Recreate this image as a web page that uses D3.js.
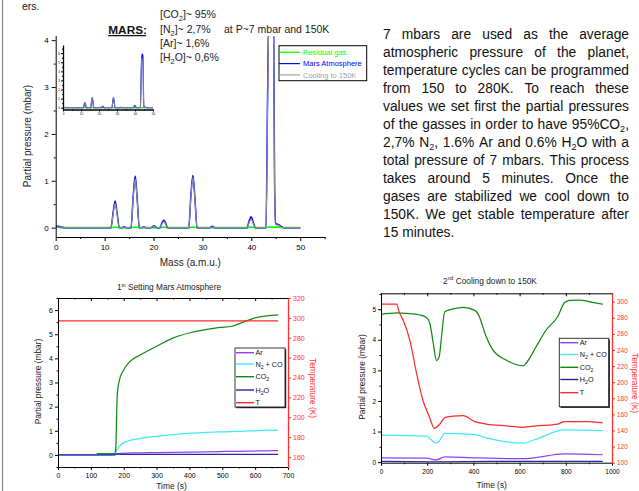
<!DOCTYPE html>
<html>
<head>
<meta charset="utf-8">
<script src="https://cdn.jsdelivr.net/npm/d3@7"></script>
<style>
body { margin: 0; background: #fff; }
#page { position: relative; width: 639px; height: 491px; overflow: hidden; background: #fff;
        font-family: Arial, "Liberation Sans", Helvetica, sans-serif; }
svg { position: absolute; left: 0; top: 0; }
svg text { white-space: pre; }
#para { position: absolute; left: 383px; top: 26px; width: 246px; font-size: 13.8px; color: #111; }
#para .row { display: flex; justify-content: space-between; height: 18px; line-height: 18px; white-space: nowrap; }
#para .row.last { justify-content: flex-start; column-gap: 3.8px; }
#para sub { font-size: 9px; line-height: 0; vertical-align: -3px; }
</style>
</head>
<body>
<div id="page"></div>
<script>
const FONT = 'Arial, "Liberation Sans", Helvetica, sans-serif';

// ---- mass spectrum (top chart) ----
const massX = [0, 0.6, 1.2, 2.0,
    11.3, 11.75, 12.15, 12.55, 13.0,
    13.6, 14.0, 14.4,
    15.4, 15.85, 16.25, 16.65, 17.1,
    17.6, 18.0, 18.4,
    19.5, 20.1, 20.7,
    21.3, 21.75, 22.1, 22.45, 22.9,
    27.2, 27.65, 28.05, 28.45, 28.9,
    31.5, 32.0, 32.5,
    39.1, 39.55, 39.95, 40.35, 40.8,
    43.0, 43.3, 43.55, 43.9, 44.3, 44.55, 44.75, 44.95, 45.5, 46.0, 46.5,
    50];
const marsP = [0.03, 0.03, 0.01, 0,
    0, 0.33, 0.57, 0.32, 0,
    0, 0.02, 0,
    0, 0.68, 1.1, 0.64, 0,
    0, 0.015, 0,
    0, 0.04, 0,
    0, 0.1, 0.16, 0.1, 0,
    0, 0.7, 1.12, 0.66, 0,
    0, 0.03, 0,
    0, 0.14, 0.23, 0.13, 0,
    0, 2.6, 4.7, 5.9, 5.8, 4.5, 1.0, 0.08, 0.07, 0.03, 0,
    0];
const coolP = [0.02, 0.02, 0.01, 0,
    0, 0.3, 0.52, 0.29, 0,
    0, 0.015, 0,
    0, 0.64, 1.04, 0.6, 0,
    0, 0.01, 0,
    0, 0.03, 0,
    0, 0.08, 0.13, 0.08, 0,
    0, 0.66, 1.07, 0.62, 0,
    0, 0.02, 0,
    0, 0.11, 0.18, 0.1, 0,
    0, 2.4, 4.4, 5.45, 5.35, 4.2, 0.9, 0.06, 0.05, 0.02, 0,
    0];
const residP = [0.01, 0.01, 0, 0,
    0, 0.005, 0.01, 0.005, 0,
    0, 0, 0,
    0, 0.005, 0.01, 0.005, 0,
    0, 0, 0,
    0, 0, 0,
    0, 0.005, 0.01, 0.005, 0,
    0, 0.005, 0.01, 0.005, 0,
    0, 0, 0,
    0, 0.005, 0.01, 0.005, 0,
    0, 0.005, 0.01, 0.01, 0.01, 0.01, 0.01, 0.01, 0.01, 0.005, 0,
    0];
const massTicks = [0, 10, 20, 30, 40, 50];
const pressTicks = [0, 1, 2, 3, 4];
const insetPressTicks = [0, 1, 2, 3, 4, 5, 6];

// ---- 1st: setting Mars atmosphere ----
const t1 = [0, 118, 172, 176, 179, 181, 187, 199, 219, 250, 300, 351, 402, 453, 493, 529, 554, 595, 635, 670];
const co2_1 = [null, 0.05, 0.05, 0.3, 2.0, 2.6, 3.1, 3.5, 3.87, 4.14, 4.5, 4.85, 5.06, 5.2, 5.28, 5.33, 5.45, 5.66, 5.76, 5.8];
const n2_1 = [0, 0, 0.02, 0.1, 0.2, 0.25, 0.36, 0.5, 0.6, 0.68, 0.77, 0.84, 0.9, 0.93, 0.95, 0.97, 0.98, 1.0, 1.02, 1.03];
const ar_1 = [0, 0, 0.01, 0.04, 0.05, 0.05, 0.06, 0.07, 0.08, 0.09, 0.1, 0.11, 0.12, 0.13, 0.14, 0.15, 0.15, 0.16, 0.17, 0.18];
const h2o_1 = [0, 0, 0, 0.02, 0.03, 0.03, 0.03, 0.02, 0.02, 0.02, 0.02, 0.02, 0.02, 0.02, 0.02, 0.02, 0.02, 0.02, 0.02, 0.02];
const temp_1 = [297, 297, 297, 297, 297, 297, 297, 297, 297, 297, 297, 297, 297, 297, 297, 297, 297, 297, 297, 297];
const time1Ticks = [0, 100, 200, 300, 400, 500, 600, 700];
const press1Ticks = [0, 1, 2, 3, 4, 5, 6];
const temp1Ticks = [160, 180, 200, 220, 240, 260, 280, 300, 320];

// ---- 2nd: cooling down to 150K ----
const co2T2 = [0, 68, 111, 168, 197, 211, 226, 240, 252, 262, 276, 312, 355, 406, 420, 456, 485, 543, 617, 629, 672, 715, 765, 794, 816, 859, 916, 960];
const co2V2 = [4.83, 4.88, 4.86, 4.81, 4.73, 4.55, 3.9, 3.32, 3.45, 4.1, 4.92, 5.01, 5.06, 4.96, 4.85, 4.09, 3.66, 3.33, 3.15, 3.24, 3.78, 4.32, 4.76, 5.21, 5.29, 5.3, 5.22, 5.16];
const tempT2 = [0, 68, 78, 96, 125, 154, 183, 197, 212, 230, 255, 276, 312, 355, 406, 456, 543, 617, 672, 765, 794, 888, 960];
const tempV2 = [297, 297, 287.6, 277, 252, 211, 176, 165.5, 155, 142.7, 148, 156, 157.7, 158.5, 151, 148, 145.7, 144, 145.7, 148, 151, 151, 149.6];
const n2T2 = [0, 197, 237, 247, 276, 406, 456, 617, 672, 794, 960];
const n2V2 = [0.88, 0.85, 0.63, 0.65, 0.94, 0.9, 0.79, 0.62, 0.75, 1.05, 1.03];
const arT2 = [0, 197, 240, 276, 406, 617, 794, 960];
const arV2 = [0.14, 0.13, 0.07, 0.17, 0.14, 0.11, 0.27, 0.24];
const h2oT2 = [0, 240, 480, 720, 960];
const h2oV2 = [0.02, 0.01, 0.02, 0.02, 0.02];
const time2Ticks = [0, 200, 400, 600, 800, 1000];
const press2Ticks = [0, 1, 2, 3, 4, 5];
const temp2Ticks = [100, 120, 140, 160, 180, 200, 220, 240, 260, 280, 300];

const gasNames = ['Ar', 'N_2 + CO', 'CO_2', 'H_2O', 'T'];
const paraLines = [
    '7 mbars are used as the average',
    'atmospheric pressure of the planet,',
    'temperature cycles can be programmed',
    'from 150 to 280K. To reach these',
    'values we set first the partial pressures',
    'of the gasses in order to have 95%CO<sub>2</sub>,',
    '2,7% N<sub>2</sub>, 1.6% Ar and 0.6% H<sub>2</sub>O with a',
    'total pressure of 7 mbars. This process',
    'takes around 5 minutes. Once the',
    'gases are stabilized we cool down to',
    '150K. We get stable temperature after',
    '15 minutes.'
];

const AR = '#9440f2', N2 = '#3ee8ff', CO2 = '#118a11', H2O = '#2626a4', TEMP = '#ff2a2a';
const RED_AXIS = '#ff3030';
const plain = d => String(d);

const svg = d3.select('#page').append('svg').attr('width', 639).attr('height', 491);
const defs = svg.append('defs');

// text with _x subscripts and ^xx superscripts
function richText(sel, str, size) {
    const parts = str.split(/([_^][0-9a-z]+)/);
    let shift = 0;
    parts.forEach(p => {
        if (!p) return;
        let target = 0, fs = size, txt = p;
        if (p[0] === '_') { target = size * 0.3; fs = size * 0.72; txt = p.slice(1); }
        else if (p[0] === '^') { target = -size * 0.4; fs = size * 0.62; txt = p.slice(1); }
        sel.append('tspan').attr('dy', target - shift).attr('font-size', fs).text(txt);
        shift = target;
    });
    return sel;
}

function label(parent, x, y, str, size, opts = {}) {
    const t = parent.append('text')
        .attr('x', x).attr('y', y)
        .attr('font-family', FONT).attr('font-size', size)
        .attr('fill', opts.color || '#111')
        .attr('text-anchor', opts.anchor || 'start');
    if (opts.weight) t.attr('font-weight', opts.weight);
    if (opts.rotate) t.attr('transform', `rotate(${opts.rotate},${x},${y})`);
    return richText(t, str, size);
}

function axisG(parent, axis, tx, ty, color, fs, noDomain) {
    const a = parent.append('g')
        .attr('transform', `translate(${tx},${ty})`)
        .call(axis)
        .attr('font-family', FONT)
        .attr('font-size', fs);
    a.select('.domain').attr('stroke', color).style('display', noDomain ? 'none' : null);
    a.selectAll('.tick line').attr('stroke', color);
    a.selectAll('.tick text').attr('fill', color);
    return a;
}
const blank = () => '';

// page edge and the tail of the previous paragraph
svg.append('line').attr('x1', 2.5).attr('x2', 2.5).attr('y1', 0).attr('y2', 491)
    .attr('stroke', '#888').attr('stroke-width', 1.2);
label(svg, 22, 10, 'ers.', 10.5);

// ---------------- mass spectrum ----------------
const xM = d3.scaleLinear().domain([0, 55]).range([55.7, 324.7]);
const yM = d3.scaleLinear().domain([-0.2, 4.1]).range([237, 35.5]);

defs.append('clipPath').attr('id', 'mainClip').append('rect')
    .attr('x', xM(0)).attr('y', 36).attr('width', xM(55) - xM(0)).attr('height', 237 - 36);

const specLine = (xs, ys) => d3.line()
    .x((d, i) => xs(massX[i]))
    .y(d => ys(d))
    .curve(d3.curveMonotoneX);

const mainBody = svg.append('g').attr('clip-path', 'url(#mainClip)');
mainBody.append('path').datum(residP).attr('d', specLine(xM, yM))
    .attr('fill', 'none').attr('stroke', '#00ff00').attr('stroke-width', 1.6);
mainBody.append('path').datum(marsP).attr('d', specLine(xM, yM))
    .attr('fill', 'none').attr('stroke', '#0000ff').attr('stroke-width', 1.5);
mainBody.append('path').datum(coolP).attr('d', specLine(xM, yM))
    .attr('fill', 'none').attr('stroke', '#8e8e9a').attr('stroke-width', 1.1);

axisG(svg, d3.axisLeft(yM).tickValues(pressTicks).tickFormat(plain).tickSize(4).tickPadding(3).tickSizeOuter(0),
    xM(0), 0, '#000', 8);
axisG(svg, d3.axisLeft(yM).tickValues([0.5, 1.5, 2.5, 3.5]).tickSize(2).tickFormat(blank),
    xM(0), 0, '#000', 8, true);
axisG(svg, d3.axisBottom(xM).tickValues(massTicks).tickFormat(plain).tickSize(4).tickPadding(3).tickSizeOuter(0),
    0, 237, '#000', 8);
axisG(svg, d3.axisBottom(xM).tickValues([5, 15, 25, 35, 45, 55]).tickSize(2).tickFormat(blank),
    0, 237, '#000', 8, true);

label(svg, 190.3, 266, 'Mass (a.m.u.)', 10, { anchor: 'middle', color: '#222' });
label(svg, 31, 136, 'Partial pressure (mbar)', 10, { anchor: 'middle', rotate: -90, color: '#222' });

// inset: full-scale view of the same spectra
const xI = d3.scaleLinear().domain([0, 50]).range([63, 153]);
const yI = d3.scaleLinear().domain([-0.2, 6.9]).range([109.5, 45]);
defs.append('clipPath').attr('id', 'insetClip').append('rect')
    .attr('x', 63).attr('y', 45).attr('width', 90).attr('height', 64.5);
const inset = svg.append('g').attr('clip-path', 'url(#insetClip)');
inset.append('path').datum(residP).attr('d', specLine(xI, yI))
    .attr('fill', 'none').attr('stroke', '#00ff00').attr('stroke-width', 1.2);
inset.append('path').datum(marsP).attr('d', specLine(xI, yI))
    .attr('fill', 'none').attr('stroke', '#0000ff').attr('stroke-width', 1.2);
inset.append('path').datum(coolP).attr('d', specLine(xI, yI))
    .attr('fill', 'none').attr('stroke', '#8e8e9a').attr('stroke-width', 1);
const ia1 = axisG(svg, d3.axisLeft(yI).tickValues(insetPressTicks).tickFormat(plain).tickSize(2).tickPadding(1).tickSizeOuter(0),
    63, 0, '#000', 3);
const ia2 = axisG(svg, d3.axisBottom(xI).tickValues(massTicks).tickFormat(plain).tickSize(2).tickPadding(1).tickSizeOuter(0),
    0, 109.5, '#000', 3);
axisG(svg, d3.axisLeft(yI).tickValues([0.5, 1.5, 2.5, 3.5, 4.5, 5.5, 6.5]).tickSize(1).tickFormat(blank),
    63, 0, '#000', 3, true);
axisG(svg, d3.axisBottom(xI).tickValues([5, 15, 25, 35, 45]).tickSize(1).tickFormat(blank),
    0, 109.5, '#000', 3, true);
ia1.select('.domain').attr('stroke-width', 1.3);
ia2.select('.domain').attr('stroke-width', 1.3);

// legend of the spectrum
const specLegend = [
    { name: 'Residual gas', color: '#00ff00' },
    { name: 'Mars Atmosphere', color: '#0000ff' },
    { name: 'Cooling to 150K', color: '#a0a0a0' }
];
svg.append('rect').attr('x', 279).attr('y', 45.7).attr('width', 87.7).attr('height', 35)
    .attr('fill', '#fff').attr('stroke', '#000').attr('stroke-width', 1);
specLegend.forEach((d, i) => {
    const yy = 52.3 + i * 11.3;
    svg.append('line').attr('x1', 279).attr('x2', 300).attr('y1', yy).attr('y2', yy)
        .attr('stroke', d.color).attr('stroke-width', 1.2);
    label(svg, 303, yy + 2.7, d.name, 7.5, { color: d.color });
});

// header texts
label(svg, 108.3, 33.5, 'MARS:', 11.8, { weight: 'bold', color: '#111' });
svg.append('line').attr('x1', 108.3).attr('x2', 146).attr('y1', 35.6).attr('y2', 35.6)
    .attr('stroke', '#111').attr('stroke-width', 1.2);
const composition = ['[CO_2]~ 95%', '[N_2]~ 2,7%', '[Ar]~ 1,6%', '[H_2O]~ 0,6%'];
const compBase = [18, 32.5, 47, 60.8];
composition.forEach((c, i) => label(svg, 160, compBase[i], c, 10.5, { color: '#222' }));
label(svg, 224, 33, 'at P~7 mbar and 150K', 10.5, { color: '#222' });

// ---------------- time charts ----------------
function timeChart(c) {
    const x = d3.scaleLinear().domain(c.xDomain).range([c.left, c.right]);
    const y = d3.scaleLinear().domain(c.yDomain).range([c.bottom, c.top]);
    const yT = d3.scaleLinear().domain(c.tDomain).range([c.bottom, c.top]);
    const g = svg.append('g');
    const fs = c.fontSize;

    defs.append('clipPath').attr('id', c.id + '-clip').append('rect')
        .attr('x', c.left).attr('y', c.top)
        .attr('width', c.right - c.left).attr('height', c.bottom - c.top);
    const body = g.append('g').attr('clip-path', `url(#${c.id}-clip)`);

    c.series.forEach(s => {
        const sc = s.axis === 'T' ? yT : y;
        const line = d3.line()
            .defined(d => d !== null)
            .x((d, i) => x(s.t[i]))
            .y(d => sc(d))
            .curve(d3.curveMonotoneX);
        body.append('path').datum(s.v).attr('d', line)
            .attr('fill', 'none').attr('stroke', s.color).attr('stroke-width', 1.25);
    });

    // frame and ticks
    axisG(g, d3.axisBottom(x).tickValues(c.xMajor).tickFormat(plain).tickSize(3).tickPadding(c.padX).tickSizeOuter(0),
        0, c.bottom, '#000', fs);
    axisG(g, d3.axisBottom(x).tickValues(c.xMinor).tickSize(1.5).tickFormat(blank), 0, c.bottom, '#000', fs, true);
    axisG(g, d3.axisBottom(x).tickValues(c.xMajor).tickSize(3).tickFormat(blank).tickSizeOuter(0),
        0, c.top, '#000', fs);
    axisG(g, d3.axisBottom(x).tickValues(c.xMinor).tickSize(1.5).tickFormat(blank), 0, c.top, '#000', fs, true);
    axisG(g, d3.axisLeft(y).tickValues(c.yMajor).tickFormat(plain).tickSize(3).tickPadding(2).tickSizeOuter(0),
        c.left, 0, '#000', fs);
    axisG(g, d3.axisLeft(y).tickValues(c.yMinor).tickSize(1.5).tickFormat(blank), c.left, 0, '#000', fs, true);
    axisG(g, d3.axisRight(yT).tickValues(c.tMajor).tickFormat(plain).tickSize(3).tickPadding(c.padT).tickSizeOuter(0),
        c.right, 0, RED_AXIS, fs).select('.domain').attr('stroke-width', 1.3);
    axisG(g, d3.axisRight(yT).tickValues(c.tMinor).tickSize(1.5).tickFormat(blank), c.right, 0, RED_AXIS, fs, true);

    // titles
    label(g, c.titleX, c.titleY, c.title, 8.3, { anchor: 'middle', color: '#222' });
    label(g, c.xLabelX, c.xLabelY, 'Time (s)', 8.4, { anchor: 'middle', color: '#222' });
    label(g, c.yLabelX, (c.top + c.bottom) / 2 - 1, 'Partial pressure (mbar)', 8.4,
        { anchor: 'middle', rotate: -90, color: '#222' });
    label(g, c.tLabelX, c.tLabelY, 'Temperature (K)', 8.3, { anchor: 'middle', rotate: 90, color: RED_AXIS });

    // legend box with shadow
    const L = c.legend;
    g.append('rect').attr('x', L.x0 + 1.2).attr('y', L.y0 + 1.2)
        .attr('width', L.x1 - L.x0).attr('height', L.y1 - L.y0).attr('fill', '#222');
    g.append('rect').attr('x', L.x0).attr('y', L.y0)
        .attr('width', L.x1 - L.x0).attr('height', L.y1 - L.y0)
        .attr('fill', '#fff').attr('stroke', '#222').attr('stroke-width', 0.9);
    c.series.forEach((s, i) => {
        const yy = L.rows[i];
        g.append('line').attr('x1', L.x0 + 1).attr('x2', L.x0 + 19).attr('y1', yy).attr('y2', yy)
            .attr('stroke', s.color).attr('stroke-width', 1.4);
        label(g, L.x0 + 20.5, yy + 2.5, gasNames[i], 7.2, { color: '#111' });
    });
}

timeChart({
    id: 'c1', left: 58, right: 288, top: 298, bottom: 467,
    xDomain: [0, 700], yDomain: [-0.5, 6.5], tDomain: [150, 320],
    xMajor: time1Ticks, xMinor: d3.range(50, 700, 100),
    yMajor: press1Ticks, yMinor: d3.range(-0.5, 6.6, 1),
    tMajor: temp1Ticks, tMinor: d3.range(150, 321, 20),
    fontSize: 7, padX: 3, padT: 2,
    title: '1^st Setting Mars Atmosphere', titleX: 169, titleY: 290,
    xLabelX: 171.5, xLabelY: 488.8, yLabelX: 41, tLabelX: 310, tLabelY: 388,
    legend: { x0: 235, y0: 348, x1: 285, y1: 407, rows: [352.7, 364, 376.7, 390, 402.7] },
    series: [
        { t: t1, v: ar_1, color: AR },
        { t: t1, v: n2_1, color: N2 },
        { t: t1, v: co2_1, color: CO2 },
        { t: t1, v: h2o_1, color: H2O },
        { t: t1, v: temp_1, color: TEMP, axis: 'T' }
    ]
});

timeChart({
    id: 'c2', left: 381, right: 612, top: 293.3, bottom: 462.7,
    xDomain: [0, 1000], yDomain: [-0.02, 5.52], tDomain: [100, 310.4],
    xMajor: time2Ticks, xMinor: d3.range(100, 1000, 200),
    yMajor: press2Ticks, yMinor: d3.range(0.5, 5.6, 1),
    tMajor: temp2Ticks, tMinor: d3.range(110, 311, 20),
    fontSize: 6.5, padX: 4, padT: 2,
    title: '2^nd Cooling down to 150K', titleX: 490, titleY: 283.5,
    xLabelX: 491.7, xLabelY: 488, yLabelX: 365, tLabelX: 632, tLabelY: 383,
    legend: { x0: 559.3, y0: 338.3, x1: 608.7, y1: 406.7, rows: [342.7, 354.5, 367.3, 379.5, 392.7] },
    series: [
        { t: arT2, v: arV2, color: AR },
        { t: n2T2, v: n2V2, color: N2 },
        { t: co2T2, v: co2V2, color: CO2 },
        { t: h2oT2, v: h2oV2, color: H2O },
        { t: tempT2, v: tempV2, color: TEMP, axis: 'T' }
    ]
});

// ---------------- paragraph ----------------
const para = d3.select('#page').append('div').attr('id', 'para');
paraLines.forEach((ln, i) => {
    const row = para.append('div').attr('class', i === paraLines.length - 1 ? 'row last' : 'row');
    ln.split(' ').filter(w => w).forEach(w => row.append('span').html(w));
});
</script>
</body>
</html>
